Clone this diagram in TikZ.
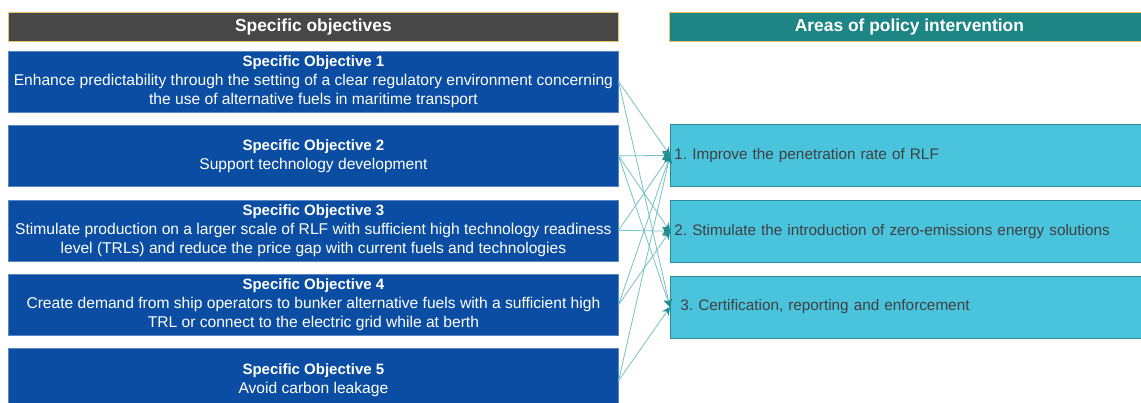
\documentclass[tikz,border=0pt]{standalone}
\usepackage{fontspec}
\setmainfont{Liberation Sans}
\usetikzlibrary{positioning,arrows.meta}
\definecolor{soblue}{HTML}{0A4DA2}
\definecolor{soedge}{HTML}{5B86C4}
\definecolor{headgrey}{HTML}{474747}
\definecolor{headteal}{HTML}{1E8585}
\definecolor{headgold}{HTML}{E6C46A}
\definecolor{areafill}{HTML}{4AC3DC}
\definecolor{areaedge}{HTML}{2E8A98}
\definecolor{areatext}{HTML}{404040}
\definecolor{linkteal}{HTML}{74C2C2}
\definecolor{tipteal}{HTML}{1E8A8A}
\tikzstyle{head} = [draw=headgold,line width=0.8pt,rectangle,inner sep=0,minimum width=610pt,minimum height=29pt,text=white,font=\bfseries\fontsize{17.4}{20}\selectfont]
\tikzstyle{objective} = [draw=soedge,fill=soblue,rectangle,inner sep=0,minimum width=610pt,minimum height=61pt,text=white,align=center,font=\fontsize{15.6}{19}\selectfont]
\tikzstyle{area} = [draw=areaedge,line width=0.8pt,fill=areafill,rectangle,inner ysep=0,inner xsep=4pt,text width=472pt,minimum height=62pt,text=areatext,align=left,font=\fontsize{15.3}{19}\selectfont]
\tikzstyle{link} = [-{Stealth[length=8pt,width=8pt,color=tipteal]},linkteal,line width=0.8pt]
\def \gap {13pt}
\def \sohead #1{{\fontsize{15}{19}\selectfont\bfseries Specific Objective #1}}
\frenchspacing

\begin{document}
\begin{tikzpicture}[x=1pt,y=-1pt]
  \clip (0,0) rectangle (1141,403);
  % left column
  \node[head,fill=headgrey,anchor=north west] (hl) at (8,12) {Specific objectives};
  \node[objective,below=9pt of hl] (so1) {\sohead{1}\\Enhance predictability through the setting of a clear regulatory environment concerning\\the use of alternative fuels in maritime transport};
  \node[objective,below=\gap of so1] (so2) {\sohead{2}\\Support technology development};
  \node[objective,below=\gap of so2] (so3) {\sohead{3}\\Stimulate production on a larger scale of RLF with sufficient high technology readiness\\level (TRLs) and reduce the price gap with current fuels and technologies};
  \node[objective,below=\gap of so3] (so4) {\sohead{4}\\Create demand from ship operators to bunker alternative fuels with a sufficient high\\TRL or connect to the electric grid while at berth};
  \node[objective,below=\gap of so4,minimum height=64pt] (so5) {\sohead{5}\\Avoid carbon leakage};
  % right column
  \node[head,fill=headteal,minimum width=480pt,anchor=north west] (hr) at (669,12) {Areas of policy intervention};
  \node[area,anchor=north west] (pa1) at (670,124) {1. Improve the penetration rate of RLF};
  \node[area,below=\gap of pa1] (pa2) {2. Stimulate the introduction of zero-emissions energy solutions};
  \node[area,below=\gap of pa2] (pa3) {\hspace{6pt}3. Certification, reporting and enforcement};
  % links
  \draw[link] (so1.east) -- (pa1.west);
  \draw[link] (so1.east) -- (pa3.west);
  \draw[link] (so2.east) -- (pa1.west);
  \draw[link] (so2.east) -- (pa2.west);
  \draw[link] (so2.east) -- (pa3.west);
  \draw[link] (so3.east) -- (pa1.west);
  \draw[link] (so3.east) -- (pa2.west);
  \draw[link] (so4.east) -- (pa1.west);
  \draw[link] (so4.east) -- (pa2.west);
  \draw[link] (so5.east) -- (pa1.west);
  \draw[link] (so5.east) -- (pa3.west);
\end{tikzpicture}
\end{document}
